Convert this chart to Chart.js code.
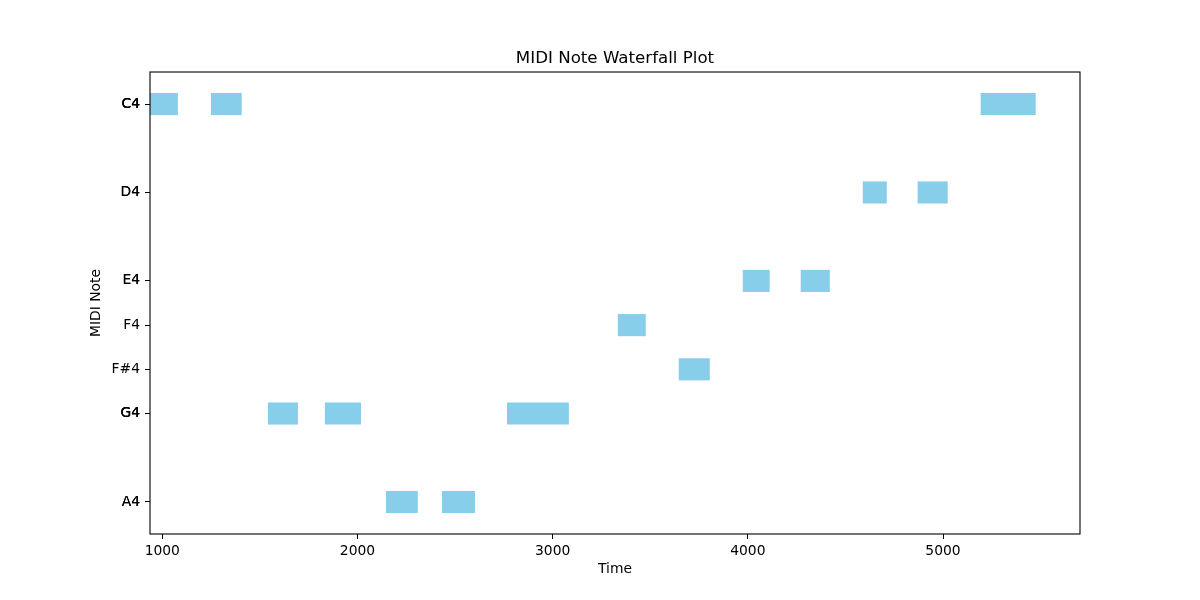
<!DOCTYPE html>
<html>
<head>
<meta charset="utf-8">
<script src="https://cdn.jsdelivr.net/npm/chart.js@4.4.0/dist/chart.umd.min.js"></script>
<style>
  html, body { margin: 0; padding: 0; background: #fff; }
  #wrap { width: 1200px; height: 600px; }
</style>
</head>
<body>
<div id="wrap"><canvas id="c" width="1200" height="600"></canvas></div>
<script>
// ---- data ----
const noteNames  = ['C4','C4','G4','G4','A4','A4','G4','F4','F#4','E4','E4','D4','D4','C4'];
const noteMidi   = [60, 60, 67, 67, 69, 69, 67, 65, 66, 64, 64, 62, 62, 60];
const startTimes = [937, 1249, 1541, 1833, 2146, 2433, 2766, 3334, 3646, 3974, 4271, 4589, 4870, 5193];
const endTimes   = [1080, 1407, 1695, 2018, 2309, 2602, 3083, 3477, 3805, 4112, 4420, 4712, 5024, 5475];
const xTickValues = [1000, 2000, 3000, 4000, 5000];
const xTickLabels = ['1000', '2000', '3000', '4000', '5000'];

// ---- axis ranges like matplotlib (sticky left edge, 5% margin) ----
const tMin = Math.min(...startTimes);
const tMax = Math.max(...endTimes);
const xMax = tMax + 0.05 * (tMax - tMin);
const nLo = Math.min(...noteMidi) - 0.25;
const nHi = Math.max(...noteMidi) + 0.25;
const nPad = 0.05 * (nHi - nLo);

const barData = noteMidi.map((m, i) => ({ y: m, x: [startTimes[i], endTimes[i]] }));

Chart.defaults.font.family = "'DejaVu Sans', sans-serif";
Chart.defaults.color = '#000';

const frame = {
  id: 'frame',
  afterDatasetsDraw(chart) {
    const a = chart.chartArea, ctx = chart.ctx;
    ctx.save();
    ctx.strokeStyle = '#000';
    ctx.lineWidth = 1.1;
    ctx.strokeRect(a.left, a.top, a.right - a.left, a.bottom - a.top);
    ctx.restore();
  }
};

new Chart(document.getElementById('c'), {
  type: 'bar',
  data: {
    datasets: [{
      data: barData,
      backgroundColor: '#87CEEB',
      borderWidth: 0,
      categoryPercentage: 1,
      barPercentage: 0.5
    }]
  },
  plugins: [frame],
  options: {
    indexAxis: 'y',
    responsive: false,
    animation: false,
    layout: { padding: { left: 88, right: 120, top: 0, bottom: 22 } },
    plugins: {
      legend: { display: false },
      tooltip: { enabled: false },
      title: {
        display: true,
        fullSize: false,
        text: 'MIDI Note Waterfall Plot',
        color: '#000',
        font: { size: 16.67, weight: 'normal', lineHeight: 1.2 },
        padding: { top: 49, bottom: 3 }
      }
    },
    scales: {
      x: {
        type: 'linear',
        min: tMin,
        max: xMax,
        offset: false,
        afterBuildTicks: s => { s.ticks = xTickValues.map(v => ({ value: v })); },
        afterFit: s => { s.height = 44; },
        grid: { display: true, offset: false, drawOnChartArea: false, drawTicks: true, tickLength: 5, color: '#000', lineWidth: 1 },
        border: { display: false },
        ticks: {
          autoSkip: false, maxRotation: 0, padding: 4, color: '#000',
          font: { size: 13.89 },
          callback: (v, i) => xTickLabels[i]
        },
        title: { display: true, text: 'Time', color: '#000', font: { size: 13.89, lineHeight: 1.2 }, padding: { top: 0, bottom: 0 } }
      },
      y: {
        type: 'linear',
        reverse: true,
        offset: false,
        min: nLo - nPad,
        max: nHi + nPad,
        afterBuildTicks: s => { s.ticks = noteMidi.map(v => ({ value: v })); },
        afterFit: s => { s.width = 62; },
        grid: { display: true, offset: false, drawOnChartArea: false, drawTicks: true, tickLength: 5, color: '#000', lineWidth: 1 },
        border: { display: false },
        ticks: {
          autoSkip: false, padding: 5, color: '#000',
          font: { size: 13.89 },
          callback: (v, i) => noteNames[i]
        },
        title: { display: true, text: 'MIDI Note', color: '#000', font: { size: 13.89, lineHeight: 1.2 }, padding: { top: 0, bottom: 0 } }
      }
    }
  }
});
</script>
</body>
</html>
